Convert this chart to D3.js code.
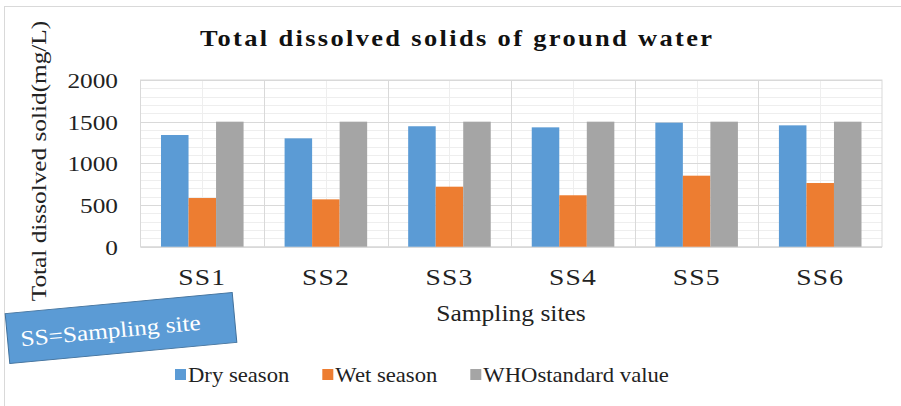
<!DOCTYPE html>
<html>
<head>
<meta charset="utf-8">
<script src="https://cdn.jsdelivr.net/npm/d3@7/dist/d3.min.js"></script>
<style>
  html, body { margin: 0; padding: 0; background: #fff; }
  svg { display: block; }
  text { font-family: "Liberation Serif", "Times New Roman", serif; }
</style>
</head>
<body>
<svg id="chart" width="901" height="406"></svg>
<script>
// ---- data ----
const categories = ["SS1", "SS2", "SS3", "SS4", "SS5", "SS6"];
const seriesNames = ["Dry season", "Wet season", "WHOstandard value"];
const drySeason = [1340, 1300, 1445, 1432, 1488, 1456];
const wetSeason = [584, 568, 720, 617, 852, 764];
const whoStandard = [1500, 1500, 1500, 1500, 1500, 1500];
const yTicks = [0, 500, 1000, 1500, 2000];
const seriesColors = ["#5b9bd5", "#ed7d31", "#a5a5a5"];

const seriesValues = [drySeason, wetSeason, whoStandard];
const rows = categories.map((c, i) => ({
  cat: c,
  vals: seriesNames.map((s, j) => ({ key: s, value: seriesValues[j][i], color: seriesColors[j] }))
}));

const FONT = "Liberation Serif";
const SX = 1.15; // horizontal stretch of text
const svg = d3.select("#chart");

// outer chart border
svg.append("rect").attr("x", 4.5).attr("y", 6.5).attr("width", 1000).attr("height", 1000)
  .attr("fill", "none").attr("stroke", "#d9d9d9").attr("stroke-width", 1);

const plot = { left: 140.5, right: 882, top: 80, bottom: 246.7 };

const x0 = d3.scaleBand().domain(categories).range([plot.left, plot.right]).padding(0);
const x1 = d3.scaleBand().domain(seriesNames).range([0, x0.bandwidth()])
  .paddingInner(0).paddingOuter(0.745);
const y = d3.scaleLinear().domain([0, 2000]).range([plot.bottom, plot.top]);

// grid
const grid = svg.append("g");
const minorTicks = d3.range(0, 2001, 100).filter(v => v % 500 !== 0);
grid.selectAll("line.hminor").data(minorTicks).enter().append("line")
  .attr("x1", plot.left).attr("x2", plot.right)
  .attr("y1", d => Math.round(y(d)) + 0.5).attr("y2", d => Math.round(y(d)) + 0.5)
  .attr("stroke", "#eeeeee").attr("stroke-width", 1);
grid.selectAll("line.vminor").data(categories).enter().append("line")
  .attr("x1", d => Math.round(x0(d) + x0.bandwidth() / 2) + 0.5)
  .attr("x2", d => Math.round(x0(d) + x0.bandwidth() / 2) + 0.5)
  .attr("y1", plot.top).attr("y2", plot.bottom)
  .attr("stroke", "#eeeeee").attr("stroke-width", 1);
grid.selectAll("line.hmajor").data(yTicks).enter().append("line")
  .attr("x1", plot.left).attr("x2", plot.right)
  .attr("y1", d => Math.round(y(d)) + 0.5).attr("y2", d => Math.round(y(d)) + 0.5)
  .attr("stroke", "#d9d9d9").attr("stroke-width", 1);
grid.selectAll("line.vmajor").data(categories.slice(1)).enter().append("line")
  .attr("x1", d => Math.round(x0(d)) + 0.5).attr("x2", d => Math.round(x0(d)) + 0.5)
  .attr("y1", plot.top).attr("y2", plot.bottom)
  .attr("stroke", "#d9d9d9").attr("stroke-width", 1);
svg.append("rect").attr("x", plot.left).attr("y", plot.top)
  .attr("width", plot.right - plot.left).attr("height", plot.bottom - plot.top)
  .attr("fill", "none").attr("stroke", "#d9d9d9").attr("stroke-width", 1);

// bars
const groups = svg.append("g").selectAll("g").data(rows).enter().append("g")
  .attr("transform", d => `translate(${x0(d.cat)},0)`);
groups.selectAll("rect").data(d => d.vals).enter().append("rect")
  .attr("x", d => x1(d.key))
  .attr("width", x1.bandwidth())
  .attr("y", d => y(d.value))
  .attr("height", d => y(0) - y(d.value))
  .attr("fill", d => d.color);

// y axis
const yAxis = d3.axisLeft(y).tickValues(yTicks).tickFormat(d3.format("d")).tickSize(0).tickPadding(0);
const yg = svg.append("g").attr("transform", "translate(118,0)").call(yAxis);
yg.attr("font-family", FONT);
yg.select(".domain").remove();
yg.selectAll("text").attr("font-family", FONT).attr("font-size", 22)
  .attr("fill", "#222").attr("dy", "0.34em").attr("transform", `scale(${SX},1)`);

// x axis
const xAxis = d3.axisBottom(x0).tickSize(0).tickPadding(0);
const xg = svg.append("g").attr("transform", `translate(0,${plot.bottom})`).call(xAxis);
xg.attr("font-family", FONT);
xg.select(".domain").remove();
xg.selectAll("text").attr("font-family", FONT).attr("font-size", 24)
  .attr("fill", "#222").attr("y", 38).attr("dy", 0).attr("letter-spacing", 1)
  .attr("transform", `scale(${SX},1)`);

// helper for stretched text
function label(txt, x, yy, opts = {}) {
  const g = svg.append("g")
    .attr("transform", `translate(${x},${yy}) rotate(${opts.rotate || 0}) scale(${opts.sx || SX},1)`);
  const t = g.append("text").text(txt)
    .attr("font-family", FONT)
    .attr("font-size", opts.size || 22)
    .attr("font-weight", opts.weight || "normal")
    .attr("fill", opts.fill || "#222")
    .attr("text-anchor", opts.anchor || "middle");
  if (opts.textLength) t.attr("textLength", opts.textLength).attr("lengthAdjust", "spacing");
  return g;
}

// title
label("Total dissolved solids of ground water", 456, 46,
  { size: 23, weight: "bold", fill: "#111", textLength: 512 / SX });

// y axis title
label("Total dissolved solid(mg/L)", 46, 161, { rotate: -90, size: 22 });

// x axis title
label("Sampling sites", 511, 320.5, { size: 23, sx: 1.11 });

// legend
const LSX = 1.03;
const legend = svg.append("g");
let lx = 175;
seriesNames.forEach((name, i) => {
  legend.append("rect").attr("x", lx).attr("y", 369).attr("width", 11).attr("height", 11)
    .attr("fill", seriesColors[i]);
  const g = legend.append("g").attr("transform", `translate(${lx + 13},381.5) scale(${LSX},1)`);
  const t = g.append("text").text(name).attr("font-family", FONT)
    .attr("font-size", 22).attr("fill", "#222");
  const w = t.node().getComputedTextLength() * LSX;
  lx = lx + 13 + w + 33;
});

// annotation box
const note = svg.append("g").attr("transform", "translate(121,328) rotate(-5.3)");
note.append("rect").attr("x", -114).attr("y", -25).attr("width", 228).attr("height", 50)
  .attr("fill", "#5b9bd5").attr("stroke", "#41719c").attr("stroke-width", 1);
note.append("g").attr("transform", `translate(-101,9) scale(${SX},1)`)
  .append("text").text("SS=Sampling site").attr("font-family", FONT)
  .attr("font-size", 22).attr("fill", "#fff");
</script>
</body>
</html>
